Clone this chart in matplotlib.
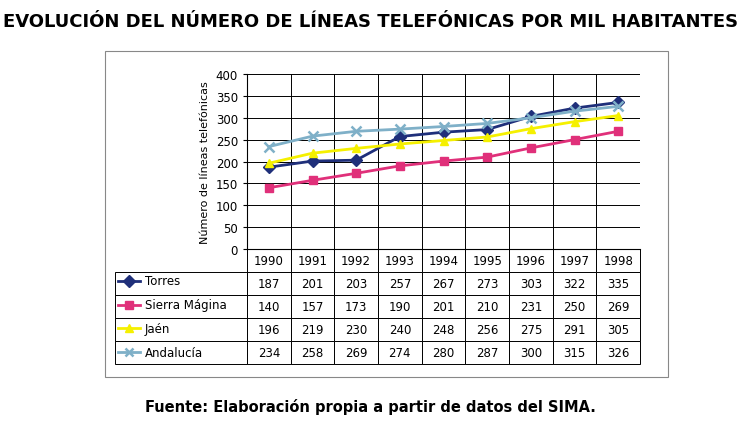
import matplotlib.pyplot as plt
from matplotlib.lines import Line2D
from matplotlib.patches import Rectangle

years = ['1990', '1991', '1992', '1993', '1994', '1995', '1996', '1997', '1998']
series_names = ['Torres', 'Sierra Mágina', 'Jaén', 'Andalucía']
torres = [187, 201, 203, 257, 267, 273, 303, 322, 335]
sierra = [140, 157, 173, 190, 201, 210, 231, 250, 269]
jaen = [196, 219, 230, 240, 248, 256, 275, 291, 305]
andalucia = [234, 258, 269, 274, 280, 287, 300, 315, 326]
values = [torres, sierra, jaen, andalucia]
colors = ['#1f2f7a', '#e0307a', '#f5f000', '#7fb0c8']
markers = ['D', 's', '^', 'x']

W, H = 741, 431
fig = plt.figure(figsize=(W / 100, H / 100), dpi=100)

def fx(px):
    return px / W

def fy(py):
    return 1 - py / H

fig.patches.append(Rectangle((fx(105), fy(378)), fx(668) - fx(105), fy(52) - fy(378),
                             transform=fig.transFigure, fill=False, ec='#888888', lw=0.8))
fig.text(0.5, fy(22), 'EVOLUCIÓN DEL NÚMERO DE LÍNEAS TELEFÓNICAS POR MIL HABITANTES',
         ha='center', va='center', fontsize=13, fontweight='bold')
fig.text(fx(370), fy(407), 'Fuente: Elaboración propia a partir de datos del SIMA.',
         ha='center', va='center', fontsize=10.5, fontweight='bold')

ax = fig.add_axes([fx(247), fy(250), fx(640) - fx(247), fy(75) - fy(250)])
x = list(range(len(years)))
for v, c, m in zip(values, colors, markers):
    ax.plot(x, v, color=c, marker=m, lw=2, ms=6 if m != 'x' else 7, mew=1.8 if m == 'x' else 1, zorder=3)
ax.set_xlim(-0.5, 8.5)
ax.set_ylim(0, 400)
ax.set_yticks(range(0, 401, 50))
ax.grid(axis='y', color='black', lw=0.7)
for b in range(len(years) + 1):
    ax.axvline(b - 0.5, color='black', lw=0.7)
ax.set_xticks([])
ax.tick_params(axis='y', labelsize=8.5, length=3)
ax.set_ylabel('Número de líneas telefónicas', fontsize=8)
for s in ['top', 'right']:
    ax.spines[s].set_visible(False)

# table
cells = [[''] + years] + [[''] + [str(val) for val in v] for v in values]
tab_h = 115 / 175
x0 = (115 - 247) / 393
tbl = ax.table(cellText=cells, cellLoc='center',
               colWidths=[(247 - 115) / 393] + [1 / 9] * 9,
               bbox=[x0, -tab_h, 1 - x0, tab_h])
tbl.auto_set_font_size(False)
tbl.set_fontsize(8.5)
for (r, c), cell in tbl.get_celld().items():
    cell.set_linewidth(0.7)
    if r == 0 and c == 0:
        cell.set_visible(False)

row_top = 270
row_h = (365 - 270) / 4
for i, (name, c, m) in enumerate(zip(series_names, colors, markers)):
    yy = fy(row_top + row_h * (i + 0.5))
    fig.add_artist(Line2D([fx(118), fx(140)], [yy, yy], color=c, lw=2,
                          transform=fig.transFigure))
    fig.add_artist(Line2D([fx(129)], [yy], color=c, marker=m, ms=6, mew=1.8 if m == 'x' else 1,
                          transform=fig.transFigure))
    fig.text(fx(145), yy, name, ha='left', va='center', fontsize=8.5)

fig.savefig('out.png', dpi=100)
